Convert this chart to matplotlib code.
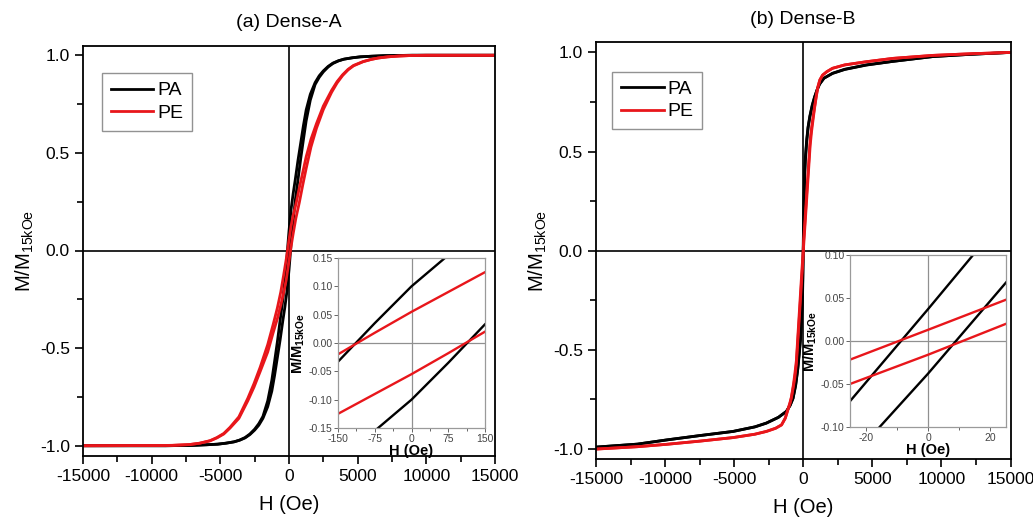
import matplotlib
matplotlib.use('Agg')
import matplotlib.pyplot as plt
from matplotlib.ticker import MultipleLocator, FormatStrFormatter

plt.rcParams['font.family'] = 'Liberation Sans'
plt.rcParams['mathtext.fontset'] = 'custom'
plt.rcParams['mathtext.rm'] = 'Liberation Sans'
plt.rcParams['mathtext.bf'] = 'Liberation Sans:bold'
plt.rcParams['axes.unicode_minus'] = False

# ---- Dense-A, PA (black): descending and ascending branches ----
a_pa_h = [-15000, -9000, -7000, -6000, -5200, -4600, -4000, -3600, -3200, -2850, -2500, -2200, -1900,
          -1550, -1250, -1050, -850, -650, -450, -300, -150, -75, 0, 75, 150, 300, 450, 650, 850,
          1050, 1250, 1550, 1900, 2200, 2500, 2850, 3200, 3600, 4000, 4600, 5200, 6000, 7000, 9000, 15000]
a_pa_down_m = [-1.0, -1.0, -0.998, -0.995, -0.992, -0.987, -0.98, -0.971, -0.958, -0.94, -0.915, -0.887, -0.85,
               -0.77, -0.664, -0.568, -0.469, -0.36, -0.253, -0.15, -0.033, 0.035, 0.10, 0.155, 0.21, 0.29, 0.36, 0.46, 0.55,
               0.64, 0.72, 0.80, 0.86, 0.895, 0.92, 0.943, 0.96, 0.972, 0.98, 0.987, 0.992, 0.995, 0.998, 1.0, 1.0]
a_pa_up_m = [-1.0, -1.0, -0.998, -0.995, -0.992, -0.987, -0.98, -0.972, -0.96, -0.943, -0.92, -0.895, -0.86,
             -0.80, -0.72, -0.64, -0.55, -0.46, -0.36, -0.29, -0.21, -0.155, -0.10, -0.035, 0.033, 0.15, 0.253, 0.36, 0.469,
             0.568, 0.664, 0.77, 0.85, 0.887, 0.915, 0.94, 0.958, 0.971, 0.98, 0.987, 0.992, 0.995, 0.998, 1.0, 1.0]

# ---- Dense-A, PE (red) ----
a_pe_h = [-15000, -9750, -8500, -7250, -6500, -5750, -5250, -4750, -4300, -3650, -3000, -2550, -2100,
          -1550, -1150, -850, -600, -400, -200, -150, -75, 0, 75, 150, 300, 500, 750, 1000, 1250,
          1600, 2000, 2500, 3100, 3500, 3900, 4300, 4700, 5400, 6000, 6500, 7200, 8000, 9000, 10000, 15000]
a_pe_down_m = [-1.0, -0.999, -0.998, -0.994, -0.987, -0.974, -0.958, -0.937, -0.906, -0.852, -0.757, -0.682, -0.598,
               -0.482, -0.378, -0.295, -0.213, -0.13, -0.044, -0.02, 0.018, 0.055, 0.09, 0.125, 0.18, 0.235, 0.32, 0.40, 0.48,
               0.57, 0.65, 0.74, 0.82, 0.865, 0.90, 0.928, 0.948, 0.968, 0.979, 0.986, 0.992, 0.996, 0.999, 1.0, 1.0]
a_pe_up_m = [-1.0, -0.999, -0.998, -0.994, -0.987, -0.975, -0.96, -0.94, -0.91, -0.86, -0.77, -0.70, -0.62,
             -0.52, -0.42, -0.35, -0.28, -0.22, -0.15, -0.125, -0.09, -0.055, -0.018, 0.02, 0.085, 0.165, 0.245, 0.335, 0.42,
             0.53, 0.626, 0.722, 0.81, 0.858, 0.896, 0.925, 0.946, 0.967, 0.979, 0.986, 0.992, 0.996, 0.999, 1.0, 1.0]

# ---- Dense-B, PA (black) ----
b_pa_h = [-15000, -12000, -9900, -7500, -5080, -3500, -2670, -1800, -1220, -950, -740, -550, -400, -300,
          -200, -100, -50, -25, 0, 25, 50, 100, 150, 250, 350, 480, 650, 820, 1000, 1180, 1500, 2120,
          3000, 4555, 6500, 9370, 12000, 15000]
b_pa_down_m = [-0.99, -0.975, -0.954, -0.932, -0.911, -0.888, -0.869, -0.84, -0.81, -0.779, -0.743, -0.675, -0.595, -0.52,
               -0.44, -0.29, -0.18, -0.07, 0.037, 0.146, 0.25, 0.40, 0.47, 0.56, 0.625, 0.68, 0.735, 0.776, 0.812, 0.84, 0.87, 0.895,
               0.915, 0.937, 0.955, 0.979, 0.99, 1.0]
b_pa_up_m = [-0.99, -0.975, -0.954, -0.932, -0.911, -0.888, -0.869, -0.84, -0.81, -0.78, -0.745, -0.68, -0.60, -0.53,
             -0.45, -0.32, -0.22, -0.138, -0.038, 0.068, 0.18, 0.37, 0.45, 0.55, 0.62, 0.675, 0.73, 0.773, 0.81, 0.84, 0.87, 0.894,
             0.914, 0.936, 0.955, 0.979, 0.99, 1.0]

# ---- Dense-B, PE (red) ----
b_pe_h = [-15000, -12000, -9900, -7500, -5080, -3500, -2670, -2000, -1570, -1300, -1100, -960, -860, -700,
          -600, -500, -250, -100, -25, 0, 25, 100, 250, 500, 600, 700, 820, 950, 1060, 1200, 1400, 1700,
          2120, 3000, 4555, 6500, 9370, 12000, 15000]
b_pe_down_m = [-1.0, -0.988, -0.976, -0.96, -0.942, -0.925, -0.911, -0.895, -0.878, -0.843, -0.797, -0.765, -0.738, -0.67,
               -0.615, -0.555, -0.27, -0.10, -0.0217, 0.013, 0.048, 0.125, 0.29, 0.56, 0.62, 0.67, 0.726, 0.785, 0.827, 0.862, 0.886, 0.903,
               0.92, 0.937, 0.953, 0.97, 0.985, 0.993, 1.0]
b_pe_up_m = [-1.0, -0.988, -0.976, -0.96, -0.942, -0.925, -0.911, -0.895, -0.878, -0.845, -0.80, -0.77, -0.743, -0.68,
             -0.635, -0.573, -0.30, -0.13, -0.05, -0.016, 0.020, 0.10, 0.26, 0.53, 0.60, 0.655, 0.72, 0.78, 0.825, 0.86, 0.885, 0.902,
             0.92, 0.937, 0.953, 0.97, 0.985, 0.993, 1.0]

titles = ['(a) Dense-A', '(b) Dense-B']
labels = ['PA', 'PE']
colors = ['black', '#e8161b']

W, H = 1033, 520
fig = plt.figure(figsize=(W / 100, H / 100), dpi=100)


def px_axes(x0, y0, x1, y1):
    """Axes from pixel box (top-left origin)."""
    return fig.add_axes([x0 / W, 1 - y1 / H, (x1 - x0) / W, (y1 - y0) / H])


def style_main(ax, title, legend_xy):
    ax.set_xlim(-15000, 15000)
    ax.set_ylim(-1.05, 1.05)
    ax.axhline(0, color='black', lw=1.2, zorder=1)
    ax.axvline(0, color='black', lw=1.2, zorder=1)
    ax.xaxis.set_major_locator(MultipleLocator(5000))
    ax.xaxis.set_minor_locator(MultipleLocator(2500))
    ax.yaxis.set_major_locator(MultipleLocator(0.5))
    ax.yaxis.set_minor_locator(MultipleLocator(0.25))
    ax.yaxis.set_major_formatter(FormatStrFormatter('%.1f'))
    ax.tick_params(which='both', direction='out', width=1.2, labelsize=12.5, top=False, right=False)
    ax.tick_params(which='major', length=6)
    ax.tick_params(which='minor', length=4)
    for s in ax.spines.values():
        s.set_linewidth(1.3)
    ax.set_xlabel('H (Oe)', fontsize=14.5, labelpad=8)
    ax.set_ylabel(r'M/M$_{\mathregular{15kOe}}$', fontsize=14.5, labelpad=3)
    ax.set_title(title, fontsize=14, pad=13)
    ax.legend(loc='upper left', bbox_to_anchor=legend_xy, fontsize=14, frameon=True, fancybox=False,
              edgecolor='#777777', handlelength=2.2, handletextpad=0.2, borderpad=0.45, labelspacing=0.25,
              borderaxespad=0)


def style_inset(ax, xlim, ylim, xmaj, xmin):
    ax.set_xlim(*xlim)
    ax.set_ylim(*ylim)
    ax.axhline(0, color='#909090', lw=0.9, zorder=1)
    ax.axvline(0, color='#909090', lw=0.9, zorder=1)
    ax.xaxis.set_major_locator(MultipleLocator(xmaj))
    ax.xaxis.set_minor_locator(MultipleLocator(xmin))
    ax.yaxis.set_major_locator(MultipleLocator(0.05))
    ax.yaxis.set_major_formatter(FormatStrFormatter('%.2f'))
    ax.tick_params(which='both', direction='out', labelsize=7.5, colors='#666666', labelcolor='#444444', width=0.7)
    ax.tick_params(which='major', length=3, pad=1)
    ax.tick_params(which='minor', length=2)
    for s in ax.spines.values():
        s.set_color('#9a9a9a')
        s.set_linewidth(0.9)
    ax.set_xlabel('H (Oe)', fontsize=10.5, fontweight='bold', labelpad=0)
    ax.set_ylabel(r'M/M$_{\mathbf{15kOe}}$', fontsize=10.5, fontweight='bold', labelpad=1)


def draw(ax, series, lw):
    for i, (h, m_down, m_up) in enumerate(series):
        ax.plot(h, m_down, color=colors[i], lw=lw, label=labels[i])
        ax.plot(h, m_up, color=colors[i], lw=lw)


series_a = [(a_pa_h, a_pa_down_m, a_pa_up_m), (a_pe_h, a_pe_down_m, a_pe_up_m)]
series_b = [(b_pa_h, b_pa_down_m, b_pa_up_m), (b_pe_h, b_pe_down_m, b_pe_up_m)]

# panel (a)
ax1 = px_axes(83, 45.5, 495, 455.5)
draw(ax1, series_a, 2.0)
style_main(ax1, titles[0], (0.046, 0.933))

ins1 = px_axes(338, 258, 485, 428)
draw(ins1, series_a, 1.7)
style_inset(ins1, (-150, 150), (-0.15, 0.15), 75, 37.5)

# panel (b)
ax2 = px_axes(596, 42.5, 1010.5, 459)
draw(ax2, series_b, 2.0)
style_main(ax2, titles[1], (0.039, 0.93))

ins2 = px_axes(850, 255, 1006, 427)
draw(ins2, series_b, 1.7)
style_inset(ins2, (-25, 25), (-0.1, 0.1), 20, 10)

fig.savefig('out.png', dpi=100)
